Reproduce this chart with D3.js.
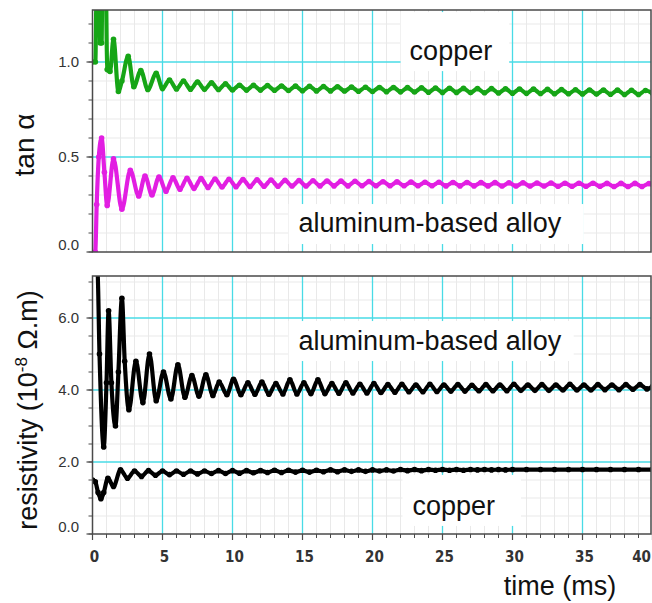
<!DOCTYPE html>
<html>
<head>
<meta charset="utf-8">
<script src="https://cdn.jsdelivr.net/npm/d3@7"></script>
<style>
  body { margin: 0; background: #fff; }
  text { font-family: "Liberation Sans", Arial, sans-serif; }
</style>
</head>
<body>
<div id="chart"></div>
<script>
// ---- data: [time (ms), value] ----
var tanCopper = [[0,1.0],[0.2,1.0],[0.3,1.4],[0.5,1.4],[0.55,1.1],[0.65,1.1],[0.7,1.4],[0.95,1.4],[1.05,0.96],[1.25,0.95],[1.5,1.12],[1.85,0.845],[2.1,0.9],[2.55,1.03],[2.95,0.87],[3.45,0.955],[3.95,0.855],[4.55,0.94],[5.0,0.86],[5.5,0.905],[6.0,0.858],[6.5,0.9],[7.0,0.857],[7.5,0.895],[8.0,0.856],[8.5,0.89],[9.0,0.855],[9.5,0.885],[10.0,0.853],[10.5,0.878],[11.0,0.852],[11.5,0.877],[12.0,0.852],[12.5,0.876],[13.0,0.851],[13.5,0.874],[14.0,0.85],[14.5,0.873],[15.0,0.849],[15.5,0.872],[16.0,0.848],[16.5,0.871],[17.0,0.848],[17.5,0.87],[18.0,0.847],[18.5,0.868],[19.0,0.846],[19.5,0.867],[20.0,0.845],[20.5,0.866],[21.0,0.844],[21.5,0.866],[22.0,0.843],[22.5,0.865],[23.0,0.842],[23.5,0.864],[24.0,0.841],[24.5,0.863],[25.0,0.84],[25.5,0.862],[26.0,0.84],[26.5,0.861],[27.0,0.839],[27.5,0.86],[28.0,0.838],[28.5,0.86],[29.0,0.837],[29.5,0.859],[30.0,0.836],[30.5,0.858],[31.0,0.835],[31.5,0.857],[32.0,0.834],[32.5,0.856],[33.0,0.833],[33.5,0.855],[34.0,0.833],[34.5,0.854],[35.0,0.832],[35.5,0.853],[36.0,0.831],[36.5,0.852],[37.0,0.83],[37.5,0.852],[38.0,0.829],[38.5,0.851],[39.0,0.829],[39.5,0.85],[40.0,0.835]];

var tanAlloy = [[0,-0.05],[0.2,0.0],[0.3,0.25],[0.45,0.5],[0.65,0.6],[0.85,0.42],[1.05,0.245],[1.5,0.49],[2.1,0.225],[2.7,0.43],[3.3,0.295],[3.75,0.4],[4.25,0.3],[4.75,0.395],[5.25,0.32],[5.75,0.39],[6.25,0.33],[6.75,0.388],[7.25,0.335],[7.75,0.386],[8.25,0.34],[8.75,0.384],[9.25,0.342],[9.75,0.383],[10.25,0.344],[10.75,0.381],[11.25,0.345],[11.75,0.38],[12.25,0.346],[12.75,0.379],[13.25,0.346],[13.75,0.377],[14.25,0.347],[14.75,0.376],[15.25,0.347],[15.75,0.375],[16.25,0.348],[16.75,0.374],[17.25,0.348],[17.75,0.373],[18.25,0.348],[18.75,0.372],[19.25,0.349],[19.75,0.371],[20.25,0.349],[20.75,0.37],[21.25,0.349],[21.75,0.369],[22.25,0.349],[22.75,0.368],[23.25,0.349],[23.75,0.367],[24.25,0.349],[24.75,0.367],[25.25,0.348],[25.75,0.366],[26.25,0.348],[26.75,0.366],[27.25,0.348],[27.75,0.365],[28.25,0.348],[28.75,0.365],[29.25,0.347],[29.75,0.364],[30.25,0.347],[30.75,0.364],[31.25,0.347],[31.75,0.363],[32.25,0.347],[32.75,0.363],[33.25,0.346],[33.75,0.362],[34.25,0.346],[34.75,0.362],[35.25,0.346],[35.75,0.362],[36.25,0.346],[36.75,0.361],[37.25,0.345],[37.75,0.361],[38.25,0.345],[38.75,0.361],[39.25,0.345],[39.75,0.36],[40,0.355]];

var resAlloy = [[0,7.6],[0.35,7.4],[0.5,5.0],[0.8,2.42],[1.0,4.2],[1.15,6.2],[1.35,4.2],[1.64,3.0],[1.85,4.5],[2.1,6.55],[2.3,4.8],[2.6,3.45],[3.1,4.8],[3.6,3.65],[4.07,5.0],[4.55,3.7],[5.07,4.5],[5.6,3.75],[6.1,4.7],[6.6,3.8],[7.1,4.4],[7.6,3.83],[8.1,4.42],[8.6,3.85],[9.05,4.22],[9.6,3.87],[10.07,4.3],[10.6,3.87],[11.1,4.2],[11.6,3.88],[12.1,4.22],[12.6,3.88],[13.1,4.18],[13.6,3.89],[14.1,4.28],[14.6,3.89],[15.1,4.2],[15.6,3.9],[16.1,4.28],[16.6,3.9],[17.1,4.18],[17.6,3.91],[18.1,4.2],[18.6,3.92],[19.1,4.16],[19.6,3.92],[20.1,4.18],[20.6,3.93],[21.1,4.15],[21.6,3.94],[22.1,4.16],[22.6,3.95],[23.1,4.14],[23.6,3.95],[24.1,4.16],[24.6,3.96],[25.1,4.14],[25.6,3.97],[26.1,4.15],[26.6,3.97],[27.1,4.13],[27.6,3.98],[28.1,4.15],[28.6,3.98],[29.1,4.14],[29.6,3.98],[30.1,4.16],[30.6,3.99],[31.1,4.14],[31.6,3.99],[32.1,4.15],[32.6,3.99],[33.1,4.14],[33.6,4.0],[34.1,4.16],[34.6,4.0],[35.1,4.14],[35.6,4.0],[36.1,4.15],[36.6,4.01],[37.1,4.14],[37.6,4.01],[38.1,4.15],[38.6,4.02],[39.1,4.15],[39.6,4.03],[40,4.1]];

var resCopper = [[0,1.5],[0.2,1.45],[0.4,1.15],[0.6,0.98],[0.8,1.15],[1.1,1.55],[1.5,1.32],[2.0,1.78],[2.5,1.55],[3.0,1.75],[3.5,1.6],[4.0,1.76],[4.5,1.63],[5.0,1.75],[5.5,1.65],[6.0,1.75],[6.5,1.66],[7.0,1.75],[7.5,1.67],[8.0,1.75],[8.5,1.68],[9.0,1.76],[9.5,1.68],[10.0,1.76],[10.5,1.69],[11.0,1.76],[11.5,1.7],[12.0,1.76],[12.5,1.71],[13.0,1.77],[13.5,1.71],[14.0,1.77],[14.5,1.72],[15.0,1.77],[15.5,1.72],[16.0,1.77],[16.5,1.73],[17.0,1.78],[17.5,1.73],[18.0,1.78],[18.5,1.74],[19.0,1.78],[19.5,1.74],[20.0,1.78],[20.5,1.75],[21.0,1.78],[21.5,1.75],[22.0,1.79],[22.5,1.76],[23.0,1.79],[23.5,1.76],[24.0,1.79],[24.5,1.77],[25.0,1.79],[25.5,1.77],[26.0,1.79],[26.5,1.77],[27.0,1.79],[27.5,1.78],[28.0,1.79],[28.5,1.78],[29.0,1.79],[29.5,1.78],[30.0,1.79],[31.0,1.79],[32.0,1.79],[33.0,1.79],[34.0,1.79],[35.0,1.79],[36.0,1.79],[37.0,1.79],[38.0,1.79],[39.0,1.79],[40.0,1.79]];

// ticks
var timeTicks = [0, 5, 10, 15, 20, 25, 30, 35, 40];
var tanTicks = [0.0, 0.5, 1.0];
var resTicks = [0.0, 2.0, 4.0, 6.0];

var width = 652, height = 603,
    left = 92.5, right = 651;

var x = d3.scaleLinear().domain([0, 40]).range([left, 652.5]);

var svg = d3.select("#chart").append("svg")
  .attr("width", width)
  .attr("height", height);

var cyan = "#48dbe6", minorGrid = "#e9e9e9", frame = "#4a4a4a";

var panels = [
  {
    id: "tan", top: 10, bottom: 252,
    y: d3.scaleLinear().domain([0, 1]).range([252, 62]),
    ticks: tanTicks, minorStep: 0.1, maxVal: 1.28,
    series: [{data: tanCopper, color: "#16a516"}, {data: tanAlloy, color: "#e21ee2"}],
    labels: [
      {text: "copper", t: 25.6, v: 1.01, pad: [9, 24, 17, 5]},
      {text: "aluminum-based alloy", t: 24.1, v: 0.105, pad: [10, 4, 22, 6]}
    ],
    xAxis: false
  },
  {
    id: "res", top: 276, bottom: 534,
    y: d3.scaleLinear().domain([0, 6]).range([534, 318]),
    ticks: resTicks, minorStep: 0.5, maxVal: 7.2,
    series: [{data: resAlloy, color: "#000"}, {data: resCopper, color: "#000"}],
    labels: [
      {text: "aluminum-based alloy", t: 24.1, v: 5.11, pad: [10, 5, 12, 5]},
      {text: "copper", t: 25.8, v: 0.53, pad: [10, 16, 26, 5]}
    ],
    xAxis: true
  }
];

panels.forEach(function(p) {
  var g = svg.append("g").attr("class", "panel-" + p.id);
  var y = p.y;

  g.append("clipPath").attr("id", "clip-" + p.id)
    .append("rect")
    .attr("x", left).attr("y", p.top)
    .attr("width", right - left).attr("height", p.bottom - p.top);

  // minor grid
  var minorT = d3.range(1, 40, 1).filter(function(d) { return d % 5 !== 0; });
  var minorV = d3.range(p.minorStep, p.maxVal, p.minorStep).filter(function(d) {
    return p.ticks.every(function(t) { return Math.abs(t - d) > 1e-6; });
  });
  g.append("g").selectAll("line.vmin").data(minorT).enter().append("line")
    .attr("x1", d => x(d)).attr("x2", d => x(d))
    .attr("y1", p.top).attr("y2", p.bottom)
    .attr("stroke", minorGrid).attr("stroke-width", 1);
  g.append("g").selectAll("line.hmin").data(minorV).enter().append("line")
    .attr("x1", left).attr("x2", right)
    .attr("y1", d => y(d)).attr("y2", d => y(d))
    .attr("stroke", minorGrid).attr("stroke-width", 1);

  // major grid
  g.append("g").selectAll("line").data(timeTicks.slice(1, -1)).enter().append("line")
    .attr("x1", d => x(d)).attr("x2", d => x(d))
    .attr("y1", p.top).attr("y2", p.bottom)
    .attr("stroke", cyan).attr("stroke-width", 1.3);
  g.append("g").selectAll("line").data(p.ticks.filter(d => d > 0)).enter().append("line")
    .attr("x1", left).attr("x2", right)
    .attr("y1", d => y(d)).attr("y2", d => y(d))
    .attr("stroke", cyan).attr("stroke-width", 1.3);

  // text labels with white boxes behind
  p.labels.forEach(function(l) {
    var lg = g.append("g");
    var box = lg.append("rect").attr("fill", "#fff");
    var txt = lg.append("text")
      .attr("x", x(l.t)).attr("y", y(l.v))
      .attr("text-anchor", "middle")
      .style("font-size", "27px")
      .attr("fill", "#111")
      .text(l.text);
    var bb = txt.node().getBBox();
    box.attr("x", bb.x - l.pad[0]).attr("y", bb.y - l.pad[1])
      .attr("width", bb.width + l.pad[0] + l.pad[2])
      .attr("height", bb.height + l.pad[1] + l.pad[3]);
  });

  // data lines
  var line = d3.line()
    .x(d => x(d[0]))
    .y(d => y(d[1]))
    .curve(d3.curveMonotoneX);

  var dg = g.append("g").attr("clip-path", "url(#clip-" + p.id + ")");
  p.series.forEach(function(s) {
    dg.append("path")
      .datum(s.data)
      .attr("d", line)
      .attr("fill", "none")
      .attr("stroke", s.color)
      .attr("stroke-width", 4.2)
      .attr("stroke-linejoin", "round");
    dg.append("g").selectAll("circle").data(s.data).enter().append("circle")
      .attr("cx", d => x(d[0])).attr("cy", d => y(d[1]))
      .attr("r", 2.8).attr("fill", s.color);
  });

  // frame
  g.append("rect")
    .attr("x", left).attr("y", p.top)
    .attr("width", right - left).attr("height", p.bottom - p.top)
    .attr("fill", "none").attr("stroke", frame).attr("stroke-width", 1.5);

  // y ticks and labels
  var yMinorAll = d3.range(0, p.maxVal, p.minorStep);
  g.append("g").selectAll("line").data(yMinorAll).enter().append("line")
    .attr("x1", left - 4).attr("x2", left)
    .attr("y1", d => y(d)).attr("y2", d => y(d))
    .attr("stroke", frame).attr("stroke-width", 1);
  g.append("g").selectAll("line").data(p.ticks).enter().append("line")
    .attr("x1", left - 6).attr("x2", left)
    .attr("y1", d => y(d)).attr("y2", d => y(d))
    .attr("stroke", frame).attr("stroke-width", 1.2);
  g.append("g").selectAll("text").data(p.ticks).enter().append("text")
    .attr("x", 79)
    .attr("y", d => y(d) - (d === 0 ? 7 : 0))
    .attr("dy", "0.35em")
    .attr("text-anchor", "end")
    .style("font-size", "15px")
    .attr("fill", "#333")
    .text(d3.format(".1f"));

  if (p.xAxis) {
    var xMinor = d3.range(0, 41, 1);
    g.append("g").selectAll("line").data(xMinor).enter().append("line")
      .attr("x1", d => x(d)).attr("x2", d => x(d))
      .attr("y1", p.bottom).attr("y2", p.bottom + 4)
      .attr("stroke", frame).attr("stroke-width", 1);
    g.append("g").selectAll("line").data(timeTicks).enter().append("line")
      .attr("x1", d => x(d)).attr("x2", d => x(d))
      .attr("y1", p.bottom).attr("y2", p.bottom + 6)
      .attr("stroke", frame).attr("stroke-width", 1.2);
    g.append("g").selectAll("text").data(timeTicks).enter().append("text")
      .attr("x", d => d === 40 ? 651 : x(d) + 2)
      .attr("y", 562)
      .attr("text-anchor", d => d === 40 ? "end" : "middle")
      .style("font-family", "'Liberation Sans Narrow', 'DejaVu Sans Condensed', sans-serif")
      .style("font-size", "15px")
      .style("font-weight", "bold")
      .attr("fill", "#333")
      .text(d => d);
  }
});

// axis titles
svg.append("text")
  .attr("transform", "translate(34,145) rotate(-90)")
  .attr("text-anchor", "middle")
  .style("font-size", "28px")
  .attr("fill", "#111")
  .text("tan α");

var rt = svg.append("text")
  .attr("transform", "translate(37,410) rotate(-90)")
  .attr("text-anchor", "middle")
  .style("font-size", "27px")
  .attr("fill", "#111");
rt.append("tspan").text("resistivity (10");
rt.append("tspan").attr("dy", -10).style("font-size", "17px").text("-8");
rt.append("tspan").attr("dy", 10).text(" Ω.m)");

svg.append("text")
  .attr("x", 560).attr("y", 595)
  .attr("text-anchor", "middle")
  .style("font-size", "27px")
  .attr("fill", "#111")
  .text("time (ms)");
</script>
</body>
</html>
